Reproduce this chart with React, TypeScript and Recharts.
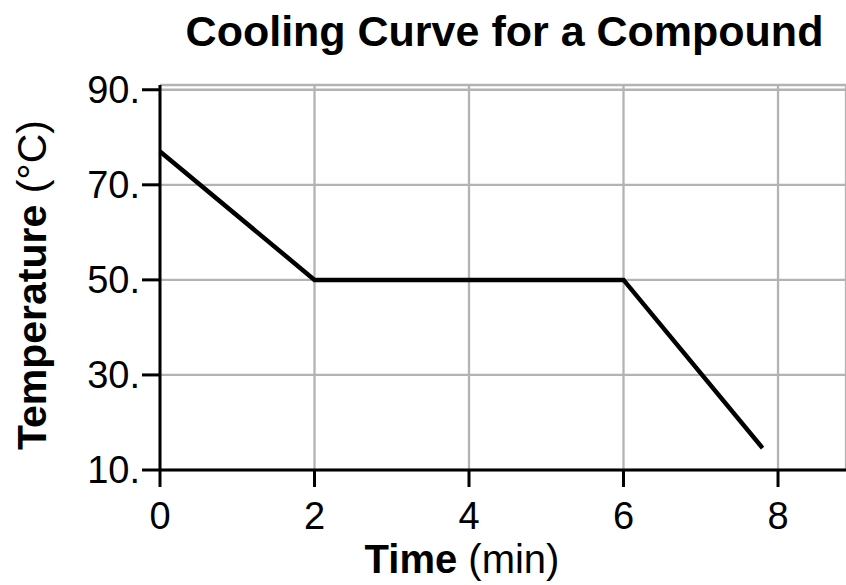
import { LineChart, Line, XAxis, YAxis, CartesianGrid } from 'recharts';

const times = [0, 2, 6, 7.8];
const temperatures = [77, 50, 50, 14.6];
const timeTicks = [0, 2, 4, 6, 8];
const tempTicks = [10, 30, 50, 70, 90];

const data = times.map((t, i) => ({ time: t, temp: temperatures[i] }));

const FONT = '"Liberation Sans", Arial, Helvetica, sans-serif';

export default function App() {
  return (
    <div style={{ position: 'absolute', left: 0, top: 0, width: 846, height: 585, background: '#fff', fontFamily: FONT }}>
      <LineChart width={846} height={585} data={data} margin={{ top: 85, right: 0, bottom: 0, left: 0 }}>
        <CartesianGrid stroke="#b3b3b3" strokeWidth={2.3} />
        <XAxis
          dataKey="time"
          type="number"
          domain={[0, 8.88]}
          ticks={timeTicks}
          height={115}
          tickSize={17}
          tickMargin={15}
          axisLine={{ stroke: '#000', strokeWidth: 3 }}
          tickLine={{ stroke: '#000', strokeWidth: 3 }}
          tick={{ fill: '#000', fontSize: 38, fontFamily: FONT }}
          interval={0}
        />
        <YAxis
          type="number"
          domain={[10, 91]}
          ticks={tempTicks}
          width={160}
          tickSize={18}
          tickMargin={2}
          tickFormatter={(v) => `${v}.`}
          axisLine={{ stroke: '#000', strokeWidth: 3 }}
          tickLine={{ stroke: '#000', strokeWidth: 3 }}
          tick={{ fill: '#000', fontSize: 38, fontFamily: FONT }}
          interval={0}
        />
        <Line
          dataKey="temp"
          stroke="#000"
          strokeWidth={4.5}
          dot={false}
          activeDot={false}
          isAnimationActive={false}
          strokeLinejoin="miter"
        />
      </LineChart>
      <svg width={846} height={585} style={{ position: 'absolute', left: 0, top: 0, pointerEvents: 'none' }}>
        <text x={504.5} y={46} textAnchor="middle" fontSize={43} fontWeight="bold" fontFamily={FONT} fill="#000">
          Cooling Curve for a Compound
        </text>
        <text x={462} y={573} textAnchor="middle" fontSize={40} fontFamily={FONT} fill="#000">
          <tspan fontWeight="bold">Time</tspan>
          <tspan> (min)</tspan>
        </text>
        <text
          x={0}
          y={0}
          transform="translate(46, 285) rotate(-90)"
          textAnchor="middle"
          fontSize={41}
          fontFamily={FONT}
          fill="#000"
        >
          <tspan fontWeight="bold">Temperature</tspan>
          <tspan> (°C)</tspan>
        </text>
      </svg>
    </div>
  );
}
